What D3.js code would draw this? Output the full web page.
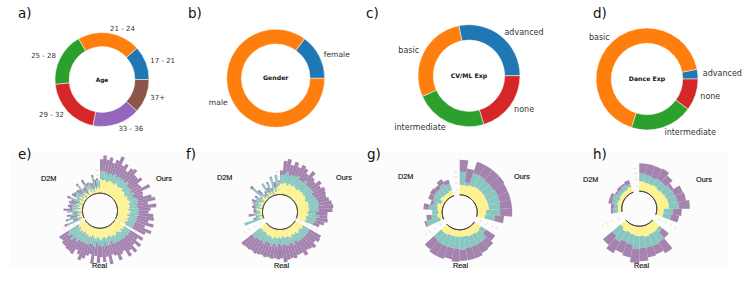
<!DOCTYPE html>
<html>
<head>
<meta charset="utf-8">
<script src="https://cdn.jsdelivr.net/npm/d3@7"></script>
<style>
  body { margin: 0; background: #fff; }
  svg { display: block; }
</style>
</head>
<body>
<script>
//--------------------------- DATA ---------------------------//
const ageLabels = ['17 - 21', '21 - 24', '25 - 28', '29 - 32', '33 - 36', '37+'];
const ageValues = [42, 78, 66, 73, 59, 42];
const genderLabels = ['female', 'male'];
const genderValues = [54, 306];
const cvLabels = ['advanced', 'basic', 'intermediate', 'none'];
const cvValues = [101.6, 102.6, 83, 73];
const danceLabels = ['advanced', 'basic', 'intermediate', 'none'];
const danceValues = [11, 241.4, 71.4, 36.2];

// radial bars, listed clockwise from the top, 0 = empty slot between groups
const eYellow = [14,13,14,12,13,14,13,12,14,13,12,13,14,12,13,12,11,13,12,13,14,12,13,12,11,13,12,10,12,11,12,10,11,
  0,
  11,12,10,12,11,9,11,12,10,11,9,10,11,9,10,12,10,9,11,10,8,10,11,9,10,8,10,9,11,8,9,8,
  0,0,
  4,2,6,3,5,1,4,7,2,5,3,6,1,4,5,2,7,3,5,1,6,4,2,5,7,3,5,2,6,4,7,5];
const eTeal = [8,9,7,8,8,6,9,8,7,8,9,7,8,7,6,8,7,8,6,7,8,9,7,8,10,8,9,10,8,9,7,9,8,
  0,
  8,7,9,6,8,9,7,6,8,7,6,8,7,6,8,6,7,6,8,7,9,8,7,9,8,10,11,10,12,11,13,12,
  0,0,
  14,4,10,3,7,4,10,3,8,5,9,2,4,11,2,8,4,9,2,6,10,3,1,8,3,9,4,3,11,2,6,8];
const ePurple = [12,16,13,17,11,16,19,13,15,9,14,17,10,13,16,9,12,17,11,8,14,18,11,19,12,10,15,17,12,18,11,19,14,
  0,
  15,10,17,12,18,14,19,11,13,18,15,10,19,14,16,11,18,13,17,10,12,15,18,13,10,16,12,14,9,13,8,11,
  0,0,
  3,5,2,7,4,5,1,9,3,5,1,7,8,3,1,5,3,1,6,5,2,3,8,5,3,1,3,6,2,8,2,0];

const fYellow = [11,11,12,10,12,11,12,11,10,12,11,12,11,12,11,10,12,12,11,12,11,10,11,9,10,9,
  0,0,
  9,10,8,9,10,8,9,8,10,9,8,9,7,9,8,9,8,10,9,8,9,8,7,8,7,8,
  0,0,0,0,
  2,4,1,5,2,3,6,1,4,2,5,3,1,4,6,2,3,1,5,2,4,1,6,3,7,9];
const fTeal = [8,9,11,10,9,10,11,9,10,11,9,8,10,9,8,10,9,10,11,9,10,8,11,10,9,8,
  0,0,
  8,7,9,8,7,9,8,7,8,6,9,7,8,7,6,8,7,8,6,7,9,8,10,9,12,10,
  0,0,0,0,
  18,3,5,4,7,3,1,6,4,10,3,5,8,3,12,6,1,4,11,3,9,4,12,5,13,3];
const fPurple = [5,14,13,11,14,10,12,13,9,12,10,8,12,9,14,12,10,11,13,15,14,12,8,12,9,7,
  0,0,
  13,14,11,15,13,12,16,14,11,16,13,15,18,13,16,12,15,11,15,14,12,15,13,14,12,14,
  0,0,0,0,
  0,3,1,5,0,3,2,4,2,0,5,1,3,0,3,5,2,3,0,5,2,3,1,5,0,2];

const gYellow = [10,10,11,12,12,12,12,12,12,9,8,0,0,8,9,8,8,7,7,7,7,7,8,8,0,0,3,5,4,5,6,3,6,5,5,6,0,0];
const gTeal = [13,3,13,12,11,11,12,12,11,14,10,0,0,6,10,11,11,12,13,12,12,12,11,10,0,0,14,6,6,9,4,9,7,8,10,7,0,0];
const gPurple = [12,14,12,12,13,13,11,11,12,12,9,0,0,11,9,10,12,12,11,13,11,13,13,12,0,0,2,5,0,5,3,5,5,4,5,4,0,0];

const hYellow = [10,9,9,10,9,10,11,12,12,7,7,0,0,9,10,10,11,10,10,9,8,9,7,0,0,0,4,4,5,4,5,5,5,6,0,0];
const hTeal = [8,8,7,7,8,9,9,9,10,9,8,0,0,4,11,12,11,12,13,10,10,12,11,0,0,0,5,4,5,7,4,4,5,3,0,0];
const hPurple = [10,11,12,12,9,3,9,9,11,9,8,0,0,8,13,9,10,13,14,13,12,13,12,0,0,0,2,3,4,3,2,3,2,4,0,0];

//------------------------- PREPARATION ------------------------//
const width = 747;
const height = 285;
const tab = { blue: '#1f77b4', orange: '#ff7f0e', green: '#2ca02c', red: '#d62728', purple: '#9467bd', brown: '#8c564b' };
const layerColors = ['#fdf28e', '#88c7c0', '#a483ae'];

const svg = d3.select('body').append('svg')
  .attr('width', width)
  .attr('height', height)
  .attr('viewBox', '0 0 ' + width + ' ' + height);

svg.append('rect')
  .attr('x', 10).attr('y', 152)
  .attr('width', 719).attr('height', 116)
  .attr('fill', '#fcfcfc');

//--------------------------- LETTERS --------------------------//
const letters = [
  ['a)', 18, 18], ['b)', 188, 18], ['c)', 366, 18], ['d)', 593, 18],
  ['e)', 18, 159], ['f)', 186, 159], ['g)', 367, 159], ['h)', 593, 159]
];
svg.selectAll('text.letter').data(letters).enter().append('text')
  .attr('class', 'letter')
  .attr('x', d => d[1]).attr('y', d => d[2])
  .style('font-family', 'DejaVu Sans')
  .style('font-size', '13.5px')
  .style('fill', '#111')
  .text(d => d[0]);

//--------------------------- DONUTS ---------------------------//
function donut(cx, cy, r, labels, values, colors, title, fontSize, titleSize) {
  const g = svg.append('g').attr('transform', 'translate(' + cx + ',' + cy + ')');
  // matplotlib pies start at 3 o'clock and go counter clockwise
  const pie = d3.pie().sort(null).startAngle(Math.PI / 2).endAngle(Math.PI / 2 - 2 * Math.PI);
  const arc = d3.arc().innerRadius(r * 0.7).outerRadius(r);
  const slices = pie(values);

  g.selectAll('path').data(slices).enter().append('path')
    .attr('d', arc)
    .attr('fill', (d, i) => colors[i])
    .attr('stroke', '#fff')
    .attr('stroke-width', 0.5);

  g.selectAll('text.lab').data(slices).enter().append('text')
    .attr('class', 'lab')
    .attr('x', d => Math.sin((d.startAngle + d.endAngle) / 2) * r * 1.1)
    .attr('y', d => -Math.cos((d.startAngle + d.endAngle) / 2) * r * 1.1)
    .attr('dy', '0.35em')
    .attr('text-anchor', d => Math.sin((d.startAngle + d.endAngle) / 2) > 0 ? 'start' : 'end')
    .style('font-family', 'DejaVu Sans')
    .style('font-size', fontSize + 'px')
    .style('fill', '#333')
    .text((d, i) => labels[i]);

  g.append('text')
    .attr('dy', '0.35em')
    .attr('text-anchor', 'middle')
    .style('font-family', 'DejaVu Sans')
    .style('font-weight', 'bold')
    .style('font-size', titleSize + 'px')
    .style('fill', '#111')
    .text(title);
}

donut(102, 79.5, 47, ageLabels, ageValues, [tab.blue, tab.orange, tab.green, tab.red, tab.purple, tab.brown], 'Age', 7, 5.8);
donut(275.7, 78.3, 49, genderLabels, genderValues, [tab.blue, tab.orange], 'Gender', 7.6, 6.2);
donut(469, 75.7, 51, cvLabels, cvValues, [tab.blue, tab.orange, tab.green, tab.red], 'CV/ML Exp', 8, 6.2);
donut(647, 79, 51, danceLabels, danceValues, [tab.blue, tab.orange, tab.green, tab.red], 'Dance Exp', 8, 6.2);

//------------------------- RADIAL BARS ------------------------//
function radial(cx, cy, yellow, teal, purple, names, tickAngles) {
  const inner = 17.5;
  const g = svg.append('g').attr('transform', 'translate(' + cx + ',' + cy + ')');
  const rows = yellow.map((d, i) => ({ i: i, yellow: d, teal: teal[i] || 0, purple: purple[i] || 0 }));
  const layers = d3.stack().keys(['yellow', 'teal', 'purple'])(rows);

  const angle = d3.scaleBand()
    .domain(rows.map(d => d.i))
    .range([0, 2 * Math.PI]);
  const radius = d3.scaleLinear().domain([0, 40]).range([inner, inner + 40]);
  const arc = d3.arc()
    .innerRadius(d => radius(d[0]))
    .outerRadius(d => radius(d[1]))
    .startAngle(d => angle(d.data.i))
    .endAngle(d => angle(d.data.i) + angle.bandwidth());

  layers.forEach((layer, k) => {
    g.append('g').selectAll('path')
      .data(layer.filter(d => d[1] > d[0]))
      .enter().append('path')
      .attr('d', arc)
      .attr('fill', layerColors[k]);
  });

  // baseline circle, broken at the gaps between the groups
  const base = [];
  rows.forEach(d => {
    if (d.yellow + d.teal + d.purple > 0) base.push(d.i);
  });
  const baseArc = d3.arc().innerRadius(inner).outerRadius(inner)
    .startAngle(i => angle(i)).endAngle(i => angle(i) + angle.bandwidth());
  g.append('g').selectAll('path').data(base).enter().append('path')
    .attr('d', baseArc)
    .attr('fill', 'none')
    .attr('stroke', '#333')
    .attr('stroke-width', 0.8);

  // faint grid ticks in the gaps
  const gridVals = [5, 12, 18, 23];
  tickAngles.forEach(a => {
    const t = a * Math.PI / 180;
    gridVals.forEach(v => {
      const r = radius(v);
      g.append('line')
        .attr('x1', Math.sin(t) * r - Math.cos(t) * 1.5)
        .attr('y1', -Math.cos(t) * r - Math.sin(t) * 1.5)
        .attr('x2', Math.sin(t) * r + Math.cos(t) * 1.5)
        .attr('y2', -Math.cos(t) * r + Math.sin(t) * 1.5)
        .attr('stroke', '#e4d2d2')
        .attr('stroke-width', 0.8);
    });
  });

  names.forEach(n => {
    svg.append('text')
      .attr('x', n[1]).attr('y', n[2])
      .attr('dy', '0.35em')
      .style('font-family', 'Liberation Sans')
      .style('font-size', '7.3px')
      .style('fill', '#111')
      .style('stroke', '#111')
      .style('stroke-width', 0.15)
      .text(n[0]);
  });
}

radial(100, 210.7, eYellow, eTeal, ePurple,
  [['D2M', 41, 178], ['Ours', 156, 178], ['Real', 92, 265.7]], [356, 120, 243]);
radial(280, 212, fYellow, fTeal, fPurple,
  [['D2M', 217, 177], ['Ours', 336, 177], ['Real', 274, 265]], [356, 115, 240]);
radial(459.7, 212.3, gYellow, gTeal, gPurple,
  [['D2M', 398, 176.5], ['Ours', 514, 176.5], ['Real', 453, 265]], [354, 113, 237]);
radial(639.3, 208.7, hYellow, hTeal, hPurple,
  [['D2M', 583, 179], ['Ours', 696, 179.5], ['Real', 634, 265]], [354, 118, 245]);
</script>
</body>
</html>
